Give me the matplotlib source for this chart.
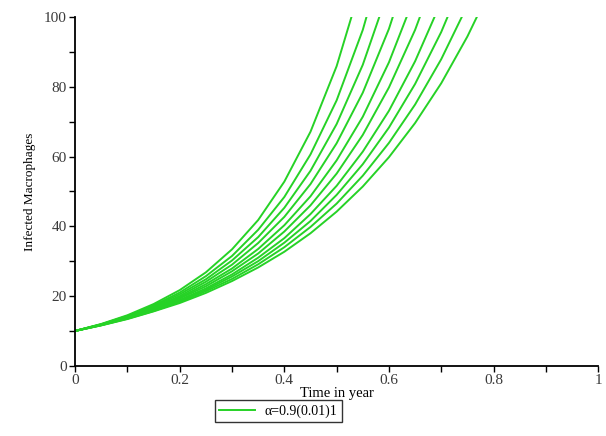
import matplotlib
matplotlib.use("Agg")
import matplotlib.pyplot as plt

# time grid (years) and the infected macrophage curves, alpha = 0.9(0.01)1
t = [0.0, 0.05, 0.10, 0.15, 0.20, 0.25, 0.30, 0.35, 0.40, 0.45, 0.50, 0.55, 0.60, 0.65, 0.70, 0.75, 0.80]

curve_0 = [10, 12.0, 14.5, 17.7, 21.7, 26.8, 33.4, 41.8, 52.8, 67.1, 85.9, 110.8]
curve_1 = [10, 11.9, 14.3, 17.3, 21.0, 25.7, 31.5, 39.0, 48.4, 60.6, 76.1, 96.3, 122.5]
curve_2 = [10, 11.9, 14.2, 17.0, 20.5, 24.8, 30.2, 36.9, 45.3, 55.9, 69.3, 86.3, 108.0]
curve_3 = [10, 11.8, 14.1, 16.7, 20.0, 24.1, 29.0, 35.2, 42.7, 52.1, 63.8, 78.3, 96.6, 119.7]
curve_4 = [10, 11.8, 13.9, 16.5, 19.6, 23.4, 27.9, 33.5, 40.3, 48.6, 58.9, 71.4, 87.0, 106.2]
curve_5 = [10, 11.7, 13.8, 16.3, 19.3, 22.8, 27.1, 32.2, 38.5, 46.0, 55.1, 66.2, 79.8, 96.3, 116.5]
curve_6 = [10, 11.7, 13.7, 16.1, 18.9, 22.2, 26.2, 31.0, 36.6, 43.5, 51.6, 61.4, 73.1, 87.3, 104.4]
curve_7 = [10, 11.7, 13.6, 15.9, 18.6, 21.8, 25.6, 30.0, 35.3, 41.5, 49.0, 57.8, 68.3, 80.8, 95.7, 113.5]
curve_8 = [10, 11.6, 13.5, 15.7, 18.3, 21.4, 24.9, 29.1, 34.0, 39.8, 46.5, 54.5, 63.9, 74.9, 87.9, 103.3]
curve_9 = [10, 11.6, 13.4, 15.6, 18.0, 20.9, 24.3, 28.2, 32.7, 38.0, 44.2, 51.4, 59.8, 69.6, 81.0, 94.4, 109.9]

curves = [curve_0, curve_1, curve_2, curve_3, curve_4, curve_5, curve_6, curve_7, curve_8, curve_9]
legend_label = "\u03b1=0.9(0.01)1"

x_ticks = [0, 0.2, 0.4, 0.6, 0.8, 1]
x_tick_labels = ["0", "0.2", "0.4", "0.6", "0.8", "1"]
y_ticks = [0, 20, 40, 60, 80, 100]
y_tick_labels = ["0", "20", "40", "60", "80", "100"]

plt.rcParams["font.family"] = ["Liberation Serif", "DejaVu Serif"]

fig = plt.figure(figsize=(6.06, 4.36), dpi=100)
ax = fig.add_axes([0.124, 0.161, 0.863, 0.800])

for i, y in enumerate(curves):
    ax.plot(t[:len(y)], y, color="#26d226", lw=1.4,
            label=legend_label if i == 0 else None)

ax.set_xlim(0, 1)
ax.set_ylim(0, 100)
ax.set_xticks(x_ticks, x_tick_labels)
ax.set_yticks(y_ticks, y_tick_labels)
ax.set_xticks([0.1, 0.3, 0.5, 0.7, 0.9], minor=True)
ax.set_yticks([10, 30, 50, 70, 90], minor=True)

for side in ["top", "right"]:
    ax.spines[side].set_visible(False)
for side in ["left", "bottom"]:
    ax.spines[side].set_linewidth(1.3)

ax.tick_params(which="both", direction="out", length=4, width=1.0,
               labelsize=11, labelcolor="#3a3a3a", pad=2)

ax.set_xlabel("Time in year", fontsize=10.5, labelpad=0)
ax.set_ylabel("Infected Macrophages", fontsize=9.5, labelpad=6)

fig.legend(loc="center", bbox_to_anchor=(0.459, 0.057), frameon=True,
           fancybox=False, edgecolor="black", fontsize=10,
           handlelength=2.6, borderpad=0.3, handletextpad=0.7)
fig.legends[0].get_frame().set_linewidth(1.0)

fig.savefig("out.png", dpi=100)
